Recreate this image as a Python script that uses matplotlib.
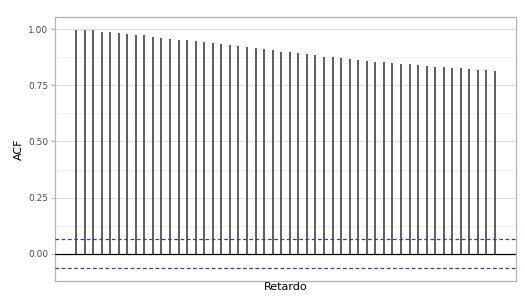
import matplotlib
matplotlib.use('Agg')
import matplotlib.pyplot as plt

# ACF values, lags 1..50
lags = list(range(1, 51))
acf = [0.999, 0.998, 0.996, 0.990, 0.987, 0.982, 0.979, 0.976, 0.973, 0.966,
       0.961, 0.957, 0.954, 0.951, 0.947, 0.945, 0.937, 0.934, 0.930, 0.927,
       0.922, 0.915, 0.911, 0.908, 0.900, 0.897, 0.893, 0.890, 0.884, 0.878,
       0.875, 0.872, 0.869, 0.865, 0.861, 0.856, 0.853, 0.848, 0.845, 0.844,
       0.841, 0.838, 0.833, 0.831, 0.828, 0.826, 0.823, 0.820, 0.819, 0.816]
conf = 0.066
yticks = [0.00, 0.25, 0.50, 0.75, 1.00]
ytick_labels = ['0.00', '0.25', '0.50', '0.75', '1.00']

fig = plt.figure(figsize=(5.25, 2.99), dpi=100)
ax = fig.add_axes([55 / 525, 1 - 281 / 299, 461 / 525, 264 / 299])

# light grid (major + minor), like theme_light
for v in [0.125, 0.375, 0.625, 0.875]:
    ax.axhline(v, color='#efefef', lw=0.5, zorder=0)
for v in yticks:
    ax.axhline(v, color='#dedede', lw=0.7, zorder=0)

ax.vlines(lags, 0, acf, color='#333333', lw=1.1, zorder=2)
ax.axhline(0, color='black', lw=0.9, zorder=3)
ax.axhline(conf, color='#3a3ab8', lw=0.9, ls=(0, (3, 2)), zorder=3)
ax.axhline(-conf, color='#3a3ab8', lw=0.9, ls=(0, (3, 2)), zorder=3)

span = lags[-1] - lags[0]
ax.set_xlim(lags[0] - 0.05 * span, lags[-1] + 0.05 * span)
ax.set_ylim(-0.122, 1.055)
ax.set_yticks(yticks)
ax.set_yticklabels(ytick_labels)
ax.set_xticks([])
ax.tick_params(axis='y', length=3, width=0.6, color='#b3b3b3',
               labelsize=6.5, labelcolor='#4d4d4d', pad=2)
for s in ax.spines.values():
    s.set_color('#b3b3b3')
    s.set_linewidth(0.9)

ax.set_ylabel('ACF', fontsize=8, labelpad=3)
ax.set_xlabel('Retardo', fontsize=8, labelpad=1)

plt.savefig('out.png', dpi=100)
